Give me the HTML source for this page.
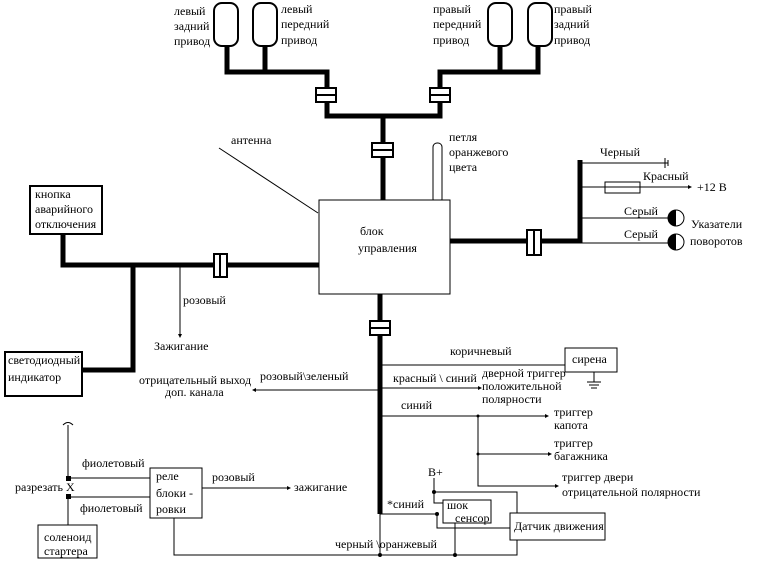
<!DOCTYPE html><html><head><meta charset="utf-8"><style>body{margin:0;background:#fff}svg{display:block}text{font-family:"Liberation Serif",serif;font-size:12px;fill:#000}</style></head><body>
<svg width="761" height="562" viewBox="0 0 761 562" xmlns="http://www.w3.org/2000/svg">
<g fill="#fff" stroke="#000" stroke-width="2">
<rect x="214" y="3" width="24" height="43" rx="8"/><rect x="253" y="3" width="24" height="43" rx="8"/>
<rect x="488" y="3" width="24" height="43" rx="8"/><rect x="528" y="3" width="24" height="43" rx="8"/>
</g>
<g fill="none" stroke="#000" stroke-width="5">
<path d="M227 46V72H327V116H440V72H538V46M500 46V72"/><path d="M265 46V72"/>
<path d="M383 116V200"/>
<path d="M63 234V265H319M133 265V370H82"/>
<path d="M450 241H580V160"/>
<path d="M380 294V514"/>
</g>
<g fill="#fff" stroke="#000" stroke-width="2">
<rect x="316" y="88" width="20" height="14"/><line x1="316" y1="95" x2="336" y2="95"/>
<rect x="430" y="88" width="20" height="14"/><line x1="430" y1="95" x2="450" y2="95"/>
<rect x="372" y="143" width="21" height="14"/><line x1="372" y1="150" x2="393" y2="150"/>
<rect x="214" y="254" width="13" height="23"/><line x1="220" y1="254" x2="220" y2="277"/>
<rect x="527" y="230" width="14" height="25"/><line x1="534" y1="230" x2="534" y2="255"/>
<rect x="370" y="321" width="20" height="14"/><line x1="370" y1="328" x2="390" y2="328"/>
</g>
<g fill="#fff" stroke="#000" stroke-width="1">
<rect x="433" y="143" width="9" height="60" rx="4"/>
<rect x="319" y="200" width="131" height="94"/>
<rect x="30" y="186" width="72" height="48" stroke-width="2"/>
<rect x="5" y="352" width="77" height="44" stroke-width="2"/>
<rect x="605" y="182" width="35" height="11"/>
<rect x="565" y="348" width="52" height="24"/>
<rect x="150" y="468" width="52" height="50"/>
<rect x="38" y="525" width="59" height="33"/>
<rect x="443" y="500" width="48" height="23"/>
<rect x="510" y="513" width="95" height="27"/>
</g>
<g fill="none" stroke="#000" stroke-width="1">
<path d="M219 148L318 213"/>
<path d="M180 265V336"/>
<path d="M580 163H668M665 158V168M668 160V166"/>
<path d="M580 187H690M580 218H668M580 243H668"/>
<path d="M380 555V514"/>
<path d="M380 365H565M594 372V382M587 382H601M589 385H599M591 388H597"/>
<path d="M380 388H478M380 416H545M478 416V486H555M478 454H548"/>
<path d="M380 390H255"/>
<path d="M380 514H437M434 478V503H443M434 492H517V513M437 514V528H510M455 523V555M174 518V555H517V540"/>
<path d="M68 425V478H150M68 497H150M68 497V525M202 488H288"/>
<path d="M63 425Q68 420 73 425"/>
</g>
<g fill="#000">
<path d="M180 338l-2-4h4z"/><path d="M692 187l-4-2v4z"/><path d="M482 388l-4-2v4z"/><path d="M549 416l-4-2v4z"/>
<path d="M552 454l-4-2v4z"/><path d="M559 486l-4-2v4z"/><path d="M252 390l4-2v4z"/><path d="M291 488l-4-2v4z"/>
<rect x="66" y="476" width="5" height="5"/><rect x="66" y="494" width="5" height="5"/>
<circle cx="380" cy="555" r="2"/><circle cx="455" cy="555" r="2"/><circle cx="437" cy="514" r="2"/><circle cx="434" cy="492" r="2"/><circle cx="478" cy="416" r="1.5"/><circle cx="478" cy="454" r="1.5"/>
<path d="M676 210A8 8 0 0 0 676 226Z"/><path d="M676 234A8 8 0 0 0 676 250Z"/>
</g>
<g fill="none" stroke="#000"><circle cx="676" cy="218" r="8"/><circle cx="676" cy="242" r="8"/></g>
<text x="174" y="15">левый</text><text x="174" y="30">задний</text><text x="174" y="45">привод</text>
<text x="281" y="13">левый</text><text x="281" y="28">передний</text><text x="281" y="44">привод</text>
<text x="433" y="13">правый</text><text x="433" y="28">передний</text><text x="433" y="44">привод</text>
<text x="554" y="13">правый</text><text x="554" y="28">задний</text><text x="554" y="44">привод</text>
<text x="231" y="144">антенна</text>
<text x="449" y="141">петля</text><text x="449" y="156">оранжевого</text><text x="449" y="171">цвета</text>
<text x="360" y="235">блок</text><text x="358" y="252">управления</text>
<text x="600" y="156">Черный</text><text x="643" y="180">Красный</text><text x="697" y="191">+12 В</text>
<text x="624" y="215">Серый</text><text x="624" y="238">Серый</text>
<text x="691" y="228">Указатели</text><text x="690" y="245">поворотов</text>
<text x="35" y="198">кнопка</text><text x="35" y="213">аварийного</text><text x="35" y="228">отключения</text>
<text x="8" y="364">светодиодный</text><text x="8" y="381">индикатор</text>
<text x="183" y="304">розовый</text><text x="154" y="350">Зажигание</text>
<text x="139" y="384">отрицательный выход</text><text x="165" y="396">доп. канала</text>
<text x="260" y="380">розовый\зеленый</text>
<text x="450" y="355">коричневый</text><text x="572" y="363">сирена</text>
<text x="393" y="382">красный \ синий</text>
<text x="482" y="377">дверной триггер</text><text x="482" y="390">положительной</text><text x="482" y="403">полярности</text>
<text x="401" y="409">синий</text>
<text x="554" y="416">триггер</text><text x="554" y="429">капота</text>
<text x="554" y="447">триггер</text><text x="554" y="460">багажника</text>
<text x="562" y="481">триггер двери</text><text x="562" y="496">отрицательной  полярности</text>
<text x="428" y="476">B+</text><text x="387" y="508">*синий</text>
<text x="447" y="509">шок</text><text x="455" y="522">сенсор</text>
<text x="514" y="530">Датчик движения</text>
<text x="335" y="548">черный \оранжевый</text>
<text x="82" y="467">фиолетовый</text><text x="80" y="512">фиолетовый</text>
<text x="15" y="491">разрезать X</text>
<text x="156" y="480">реле</text><text x="156" y="497">блоки  -</text><text x="156" y="513">ровки</text>
<text x="212" y="481">розовый</text><text x="294" y="491">зажигание</text>
<text x="44" y="541">соленоид</text><text x="44" y="555">стартера</text>
</svg></body></html>
